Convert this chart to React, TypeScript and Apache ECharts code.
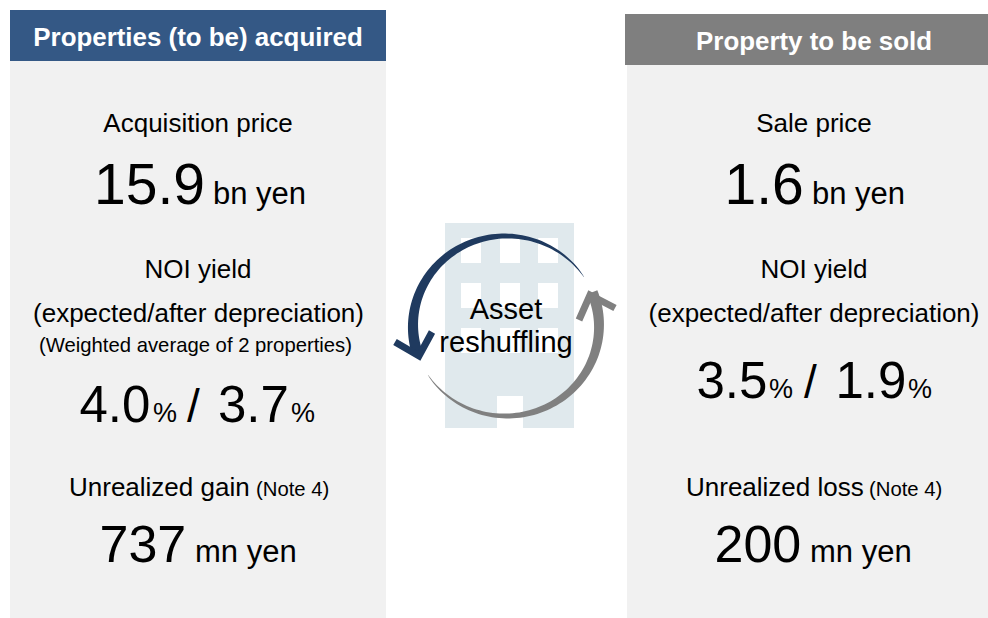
import React, { useEffect, useRef } from "react";
import * as echarts from "echarts";

const headers = ["Properties (to be) acquired", "Property to be sold"];
const priceLabels = ["Acquisition price", "Sale price"];
const priceValues = ["15.9", "1.6"];
const noiLabel = "NOI yield";
const noiSub = "(expected/after depreciation)";
const noiNote = "(Weighted average of 2 properties)";
const leftYields = ["4.0", "3.7"];
const rightYields = ["3.5", "1.9"];
const gainLabels = ["Unrealized gain", "Unrealized loss"];
const gainValues = ["737", "200"];
const centerLines = ["Asset", "reshuffling"];

const FONT = '"Liberation Sans", Arial, sans-serif';
const toRad = (d: number) => (d * Math.PI) / 180;

function txt(text: string, x: number, base: number, size: number, align = "center", fill = "#000", weight: any = "normal") {
  return {
    type: "text",
    x,
    y: base - size * 0.345,
    z: 10,
    style: { text, fontSize: size, fontFamily: FONT, fill, fontWeight: weight, align, verticalAlign: "middle" },
  };
}
function rect(x: number, y: number, w: number, h: number, fill: string, z = 1) {
  return { type: "rect", z, shape: { x, y, width: w, height: h }, style: { fill } };
}
function taper(cx: number, cy: number, rx: number, ry: number, a0: number, a1: number, w0: number, w1: number, fill: string) {
  const outer: number[][] = [];
  const inner: number[][] = [];
  const n = 80;
  for (let i = 0; i <= n; i++) {
    const t = i / n;
    const a = toRad(a0 + (a1 - a0) * t);
    const w = w0 + (w1 - w0) * Math.pow(t, 0.8);
    outer.push([cx + (rx + w / 2) * Math.cos(a), cy + (ry + w / 2) * Math.sin(a)]);
    inner.push([cx + (rx - w / 2) * Math.cos(a), cy + (ry - w / 2) * Math.sin(a)]);
  }
  return { type: "polygon", z: 5, shape: { points: outer.concat(inner.reverse()) }, style: { fill } };
}
function chevron(points: number[][], stroke: string) {
  return { type: "polyline", z: 6, shape: { points }, style: { stroke, lineWidth: 7, fill: "none", lineJoin: "miter" } };
}

function buildGraphics() {
  const g: any[] = [];
  const panelC = "#f1f1f1";
  g.push(rect(10, 61, 376, 557, panelC), rect(627, 65, 361, 553, panelC));
  g.push(rect(10, 10, 376, 51, "#345885"), rect(625, 14, 363, 51, "#7f7f7f"));
  g.push(txt(headers[0], 198, 46, 25.9, "center", "#fff", "bold"), txt(headers[1], 814, 50, 25.9, "center", "#fff", "bold"));

  // building
  g.push(rect(445, 223, 129, 205, "#e0e9ed", 2));
  for (const y of [238, 283, 328]) for (const x of [461, 500, 538]) g.push(rect(x, y, 20, 25, "#fff", 3));
  g.push(rect(497, 396, 26, 32, "#fff", 3));

  // cycle arrows
  g.push(taper(506, 326, 93, 90, -33, -197, 0.3, 11, "#1f3a5f"));
  g.push(chevron([[395, 342], [419, 356], [432, 332]], "#1f3a5f"));
  g.push(taper(506, 326, 93, 90, 147, -22, 0.3, 11, "#808080"));
  g.push(chevron([[615, 308], [590, 295], [579, 320]], "#808080"));
  g.push(txt(centerLines[0], 506, 319, 29), txt(centerLines[1], 506, 352, 29));

  // left column
  g.push(txt(priceLabels[0], 198, 132, 26));
  g.push(txt(priceValues[0], 94, 204, 57, "left"), txt("bn yen", 213, 204, 31, "left"));
  g.push(txt(noiLabel, 198, 278, 26), txt(noiSub, 198.5, 322, 26), txt(noiNote, 195.5, 352, 20.3));
  g.push(txt(leftYields[0], 79.5, 422, 51, "left"), txt("%", 153, 422, 27, "left"), txt("/", 187, 422, 46, "left"));
  g.push(txt(leftYields[1], 218, 422, 51, "left"), txt("%", 291, 422, 27, "left"));
  g.push(txt(gainLabels[0], 69, 496, 26, "left"), txt("(Note 4)", 256, 496, 20.3, "left"));
  g.push(txt(gainValues[0], 99.5, 562, 52, "left"), txt("mn yen", 195, 562, 31, "left"));

  // right column
  g.push(txt(priceLabels[1], 814, 132, 26));
  g.push(txt(priceValues[1], 724.5, 204, 57, "left"), txt("bn yen", 812, 204, 31, "left"));
  g.push(txt(noiLabel, 814, 278, 26), txt(noiSub, 814, 322, 26));
  g.push(txt(rightYields[0], 696.5, 398, 51, "left"), txt("%", 769, 398, 27, "left"), txt("/", 804, 398, 46, "left"));
  g.push(txt(rightYields[1], 835.5, 398, 51, "left"), txt("%", 908, 398, 27, "left"));
  g.push(txt(gainLabels[1], 686, 496, 26, "left"), txt("(Note 4)", 869, 496, 20.3, "left"));
  g.push(txt(gainValues[1], 714.5, 562, 52, "left"), txt("mn yen", 810, 562, 31, "left"));
  return g;
}

export default function App() {
  const ref = useRef<HTMLDivElement>(null);
  useEffect(() => {
    document.body.style.margin = "0";
    const chart = echarts.init(ref.current!, undefined, { renderer: "svg" });
    chart.setOption({ animation: false, backgroundColor: "#fff", graphic: { elements: buildGraphics() } });
    return () => chart.dispose();
  }, []);
  return <div ref={ref} style={{ width: 988, height: 618 }} />;
}
